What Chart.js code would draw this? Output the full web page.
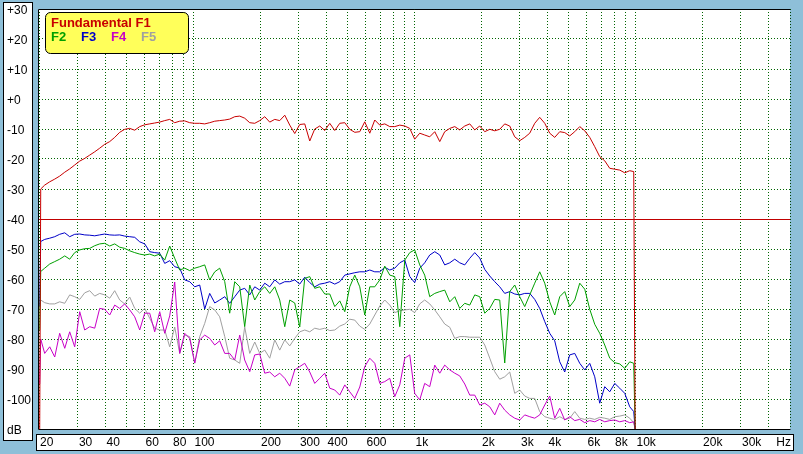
<!DOCTYPE html>
<html>
<head>
<meta charset="utf-8">
<title>Harmonic distortion</title>
<script src="https://cdn.jsdelivr.net/npm/chart.js@4.4.0/dist/chart.umd.min.js"></script>
<style>
    html, body { margin: 0; padding: 0; background: #8ebfd8; overflow: hidden; }
    canvas { display: block; }
</style>
</head>
<body>
<canvas id="chart" width="803" height="454"></canvas>
<script>
// frequency points (Hz) shared by every trace
const freqs = [
    20.15, 20.36, 21.22, 22.36, 23.56, 24.81, 26.15, 27.54, 29.01, 30.57, 32.20, 33.92,
    35.74, 37.64, 39.66, 41.78, 44.01, 46.37, 48.85, 51.46, 54.21, 57.11,
    60.16, 63.38, 66.77, 70.34, 74.10, 78.06, 82.24, 86.63, 91.27, 96.15,
    101.3, 106.7, 112.4, 118.4, 124.8, 131.4, 138.5, 145.8, 153.7, 161.9,
    170.5, 179.7, 189.3, 199.4, 210.1, 221.3, 233.2, 245.6, 258.8, 272.6,
    287.2, 302.5, 318.7, 335.8, 353.7, 372.7, 392.6, 413.6, 435.7, 459.0,
    483.6, 509.4, 536.7, 565.4, 595.6, 627.5, 661.0, 696.4, 733.6, 772.9,
    814.2, 857.8, 903.6, 951.9, 1002, 1056, 1112, 1172, 1235, 1301,
    1370, 1444, 1521, 1602, 1688, 1778, 1873, 1973, 2079, 2190,
    2307, 2430, 2560, 2697, 2841, 2993, 3153, 3322, 3499, 3686,
    3884, 4091, 4310, 4541, 4783, 5039, 5309, 5593, 5892, 6207,
    6539, 6888, 7257, 7645, 8054, 8484, 8938, 9416, 9817, 9960
];

// Fundamental F1
const f1 = [
    -110, -30, -28.7, -27.6, -26.7, -25.7, -24.4, -23.3, -22, -20.7, -19.8, -18.7,
    -17.6, -16.4, -15.1, -14.2, -12.8, -11.1, -10.1, -9.8, -10.4, -9.2,
    -8.6, -8.3, -8, -7.7, -7.2, -6.8, -7.9, -7.4, -7.3, -7.9,
    -8.1, -8.1, -8.3, -7.9, -7.4, -7.2, -7, -6.7, -5.9, -5.7,
    -6.4, -7.9, -8.1, -7.2, -5.9, -7.7, -6.8, -7.2, -5.4, -8.7,
    -11.5, -8.5, -8.3, -14, -10, -9, -10.5, -8.1, -10.5, -8.1,
    -7.9, -10.1, -11.1, -10.9, -7.6, -11.4, -7, -8.7, -8.3, -9.2,
    -9.2, -8.7, -9, -9.8, -13.4, -11.4, -12, -12.6, -10.9, -14.2,
    -10.9, -9.8, -9.2, -10.3, -9, -8.3, -10.3, -9, -10.9, -10.1,
    -10.6, -10.1, -8.3, -9, -12.6, -13.9, -12.8, -11.4, -8.1, -6.1,
    -8.1, -11.4, -12.8, -10.9, -11.2, -12.3, -10.9, -9.2, -10.6, -12.8,
    -15.9, -19.2, -20.6, -23.1, -23.4, -23.7, -24.6, -23.9, -24.2, -110
];

// F2
const f2 = [
    -77, -57.5, -56.4, -55, -54.2, -53.4, -52.3, -53.4, -51.2, -50.3, -49.9, -49.8,
    -48.9, -48.3, -48.1, -49, -48.3, -49.4, -49.8, -50.6, -51.2, -51.7,
    -52, -51.7, -52.3, -51.7, -53.7, -49, -53.1, -57, -56.4, -57.2,
    -56.4, -55.9, -55.3, -60.3, -57.6, -56.4, -60.9, -71.4, -60.9, -62.6,
    -75.9, -62, -67, -64.2, -62.6, -64.8, -62.6, -67, -75.9, -67,
    -68, -76, -59.8, -59.2, -63.1, -62.6, -65, -65, -69.2, -67.3,
    -70.9, -62.6, -58.7, -62.6, -72, -62.6, -62.6, -60.3, -55.7, -58.7,
    -59.2, -75.9, -53.7, -51.2, -50.3, -55.3, -58.7, -65.9, -64.8, -64.2,
    -63.7, -67.6, -65.9, -69.8, -68.1, -68.7, -65.3, -65.9, -71.4, -69.8,
    -66.8, -67, -88, -64.2, -62, -65.9, -69.2, -65.3, -61.4, -57.6,
    -61.4, -67.6, -72, -65.9, -64.2, -69.2, -67, -61.4, -63.4, -70.1,
    -75.1, -78.1, -82, -86.4, -87.9, -88.3, -89.8, -87.6, -88.1, -110
];

// F3
const f3 = [
    -69, -47.5, -46.8, -46.4, -45.9, -45.1, -44.6, -45.9, -45.1, -45, -45.3, -45.4,
    -45.6, -45.3, -45, -45.3, -45.4, -45.3, -45.7, -45.9, -46.1, -47.6,
    -48.3, -50.9, -51.2, -51.4, -54.8, -53.9, -55.9, -56.4, -60.3, -60.9,
    -62.6, -62, -70, -64.8, -68, -67, -65.9, -68.1, -65.9, -63.7,
    -63.1, -65.3, -62.6, -63.7, -61.4, -62.6, -60.3, -61.7, -60.9, -60.9,
    -60.3, -61.7, -59.4, -61.2, -62.6, -61.7, -61.4, -60.9, -61.7, -60.9,
    -58.7, -58.3, -57.9, -57.6, -57.6, -57, -57.6, -57.6, -56.1, -57,
    -56.4, -54.6, -53.7, -59.2, -61.2, -56.4, -54.6, -52, -50.9, -52,
    -55.3, -54.6, -53.4, -54.6, -55.3, -53.1, -51.2, -53, -56.8, -59,
    -60.9, -62.6, -64.8, -64.2, -65, -65.3, -64.8, -64.8, -66.8, -69.8,
    -74.2, -78.1, -80.6, -87.6, -91, -85.3, -84.8, -88.1, -90.3, -88.1,
    -92.6, -101.4, -95.9, -97.6, -94.8, -96.4, -98.1, -102.6, -104.2, -110
];

// F4
const f4 = [
    -95, -80, -84.8, -82.6, -86, -78.1, -83.1, -77.6, -82.6, -70.9, -77, -75.9,
    -76.4, -69.8, -70.1, -72, -68.7, -69.8, -68.3, -70.3, -72.6, -77,
    -71.4, -71.4, -77.6, -70.9, -78.1, -72.3, -61, -84.8, -78.1, -79.8,
    -88, -80.3, -78.7, -79.8, -82, -80.6, -84.8, -84.8, -87, -78.7,
    -87, -90.9, -85.3, -85, -91.4, -91, -92.6, -91.4, -93.1, -95.7,
    -90.3, -89.2, -88.1, -91, -94.8, -93.1, -91.4, -96.4, -97, -98.7,
    -95.3, -97.6, -99.8, -96, -89.2, -86.4, -88.1, -94.8, -94.2, -93.1,
    -99.2, -95.3, -86.4, -85.3, -98.1, -100.3, -94.8, -95.9, -88.7, -91.4,
    -88.7, -90.3, -91.4, -92.3, -95, -98.7, -98.7, -102, -101.4, -102.6,
    -105.3, -101.4, -103.7, -105.3, -106.4, -107, -105.3, -105.9, -106.4, -105.3,
    -102, -99, -106.4, -103.1, -107, -105.9, -107.2, -106.8, -107.9, -107.2,
    -107.6, -106.8, -107.6, -107.2, -107, -107.6, -107.2, -107.9, -107.6, -110
];

// F5
const f5 = [
    -70, -67, -67.9, -68.3, -68.3, -67.6, -68.1, -65.3, -65.9, -66.8, -64.6, -63.9,
    -65.7, -64.8, -65.3, -66.4, -63.9, -67, -68.3, -66, -69.8, -71.4,
    -69.8, -73.1, -76.4, -77, -77, -82.6, -76, -84.8, -78.7, -79.2,
    -88.1, -79.2, -74.8, -69.2, -70.3, -72.6, -79.2, -86.4, -87, -88.1,
    -76, -84.8, -81, -84.8, -83.7, -86.4, -80.3, -83.7, -80.3, -82.3,
    -79.8, -77.6, -77, -77.6, -76.4, -76.8, -76.4, -77.2, -77, -75.7,
    -75, -73.4, -73.7, -75.7, -76.8, -75, -72, -69, -67, -68.7,
    -71.2, -70.6, -70.3, -70.1, -71.2, -68.3, -67, -68.3, -70.3, -72.6,
    -75, -76.1, -79.8, -79.2, -79.2, -79.4, -79.4, -79.4, -82, -86.4,
    -90.9, -93.4, -92.6, -91, -98.1, -97, -99, -99.8, -99.8, -104.2,
    -105.9, -106.4, -106.8, -105.9, -106.8, -106.4, -104.2, -106.4, -106.8, -106.4,
    -106.8, -106.1, -106.4, -106.8, -105.9, -105.7, -105.3, -106.4, -107.9, -110
];

const seriesLabels = ["Fundamental F1", "F2", "F3", "F4", "F5"];
const seriesColors = ["#c80000", "#00a000", "#0000c8", "#c800c8", "#a0a0a0"];

const refLevel = -40;

// grid lines and labels of the frequency axis
const gridFreqs = [
    20, 30, 40, 50, 60, 70, 80, 90,
    100, 200, 300, 400, 500, 600, 700, 800, 900,
    1000, 2000, 3000, 4000, 5000, 6000, 7000, 8000, 9000,
    10000, 20000, 30000, 40000
];
const xTickValues = [20, 30, 40, 60, 80, 100, 200, 300, 400, 600, 1000, 2000, 3000, 4000, 6000, 8000, 10000, 20000, 30000, 40000];
const xTickLabels = ["20", "30", "40", "60", "80", "100", "200", "300", "400", "600", "1k", "2k", "3k", "4k", "6k", "8k", "10k", "20k", "30k", "  Hz"];

// level axis
const yTickValues = [-110, -100, -90, -80, -70, -60, -50, -40, -30, -20, -10, 0, 10, 20, 30];
const yTickLabels = ["dB", "-100", "-90", "-80", "-70", "-60", "-50", "-40", "-30", "-20", "-10", "+0", "+10", "+20", "+30"];

const fontFamily = "'Liberation Sans', Arial, sans-serif";
const gridColor = "#006400";

Chart.defaults.font.family = fontFamily;
Chart.defaults.font.size = 12;
Chart.defaults.color = "#000";

const roundRect = (ctx, x, y, w, h, r) => {
    ctx.beginPath();
    ctx.moveTo(x + r, y);
    ctx.lineTo(x + w - r, y);
    ctx.arcTo(x + w, y, x + w, y + r, r);
    ctx.lineTo(x + w, y + h - r);
    ctx.arcTo(x + w, y + h, x + w - r, y + h, r);
    ctx.lineTo(x + r, y + h);
    ctx.arcTo(x, y + h, x, y + h - r, r);
    ctx.lineTo(x, y + r);
    ctx.arcTo(x, y, x + r, y, r);
    ctx.closePath();
};

const panels = {
    id: "panels",
    beforeDraw(chart) {
        const { ctx, chartArea: area } = chart;
        ctx.save();
        ctx.fillStyle = "#8ebfd8";
        ctx.fillRect(0, 0, chart.width, chart.height);

        // level label box
        ctx.fillStyle = "#fff";
        ctx.strokeStyle = "#000";
        ctx.lineWidth = 1;
        ctx.fillRect(3, 2, 30, 439);
        ctx.strokeRect(3.5, 2.5, 29, 438);

        // frequency label box
        ctx.fillRect(36, 434, 758, 17);
        ctx.strokeRect(36.5, 434.5, 757, 16);

        // plot area
        ctx.fillRect(area.left - 1, area.top, area.right - area.left + 1, area.bottom - area.top + 1);
        ctx.restore();
    },
    beforeDatasetsDraw(chart) {
        const { ctx, chartArea: area, scales } = chart;
        const y = Math.round(scales.y.getPixelForValue(refLevel)) + 0.5;
        ctx.save();
        ctx.setLineDash([]);
        ctx.strokeStyle = "#c00000";
        ctx.lineWidth = 1;
        ctx.beginPath();
        ctx.moveTo(area.left - 1, y);
        ctx.lineTo(area.right, y);
        ctx.stroke();
        ctx.restore();
    },
    afterDraw(chart) {
        const { ctx, chartArea: area } = chart;
        ctx.save();
        ctx.lineWidth = 1;
        ctx.strokeStyle = "#000";
        ctx.beginPath();
        ctx.moveTo(area.left - 0.5, area.bottom + 0.5);
        ctx.lineTo(area.left - 0.5, area.top + 0.5);
        ctx.lineTo(area.right + 0.5, area.top + 0.5);
        ctx.moveTo(area.left - 0.5, area.bottom + 0.5);
        ctx.lineTo(area.right + 0.5, area.bottom + 0.5);
        ctx.stroke();
        ctx.setLineDash([1, 2]);
        ctx.strokeStyle = "#004000";
        ctx.beginPath();
        ctx.moveTo(area.right + 0.5, area.top);
        ctx.lineTo(area.right + 0.5, area.bottom);
        ctx.stroke();
        ctx.setLineDash([]);

        // legend box
        const datasets = chart.data.datasets;
        roundRect(ctx, 45.5, 12.5, 143, 41, 5);
        ctx.fillStyle = "#ffff5a";
        ctx.fill();
        ctx.strokeStyle = "#000";
        ctx.stroke();
        ctx.font = "bold 13px " + fontFamily;
        ctx.textBaseline = "middle";
        ctx.fillStyle = datasets[0].borderColor;
        ctx.fillText(datasets[0].label, 51, 23);
        datasets.slice(1).forEach((dataset, index) => {
            ctx.fillStyle = dataset.borderColor;
            ctx.fillText(dataset.label, 51 + index * 30, 37);
        });
        ctx.restore();
    },
};

const series = [f1, f2, f3, f4, f5];

new Chart(document.getElementById("chart"), {
    type: "line",
    data: {
        datasets: series.map((values, index) => ({
            label: seriesLabels[index],
            data: freqs.map((f, i) => ({ x: f, y: values[i] })),
            borderColor: seriesColors[index],
            backgroundColor: seriesColors[index],
            borderWidth: 1,
            pointRadius: 0,
            tension: 0,
            fill: false,
        })),
    },
    options: {
        responsive: false,
        devicePixelRatio: 1,
        animation: false,
        layout: {
            padding: { left: 7, top: 9, right: 13, bottom: 0 },
        },
        plugins: {
            legend: { display: false },
            tooltip: { enabled: false },
        },
        scales: {
            x: {
                type: "logarithmic",
                min: 20,
                max: 50000,
                afterBuildTicks: (scale) => {
                    scale.ticks = gridFreqs.map((value) => ({ value }));
                },
                afterFit: (scale) => {
                    scale.height = 25;
                },
                ticks: {
                    autoSkip: false,
                    maxRotation: 0,
                    minRotation: 0,
                    align: "start",
                    padding: 6,
                    labelOffset: 1,
                    callback: (value) => {
                        const index = xTickValues.indexOf(value);
                        return index >= 0 ? xTickLabels[index] : "";
                    },
                },
                grid: { color: gridColor, lineWidth: 1, drawTicks: false },
                border: { display: false, dash: [1, 2] },
            },
            y: {
                type: "linear",
                min: -110,
                max: 30,
                afterBuildTicks: (scale) => {
                    scale.ticks = yTickValues.map((value) => ({ value }));
                },
                afterFit: (scale) => {
                    scale.width = 32;
                },
                ticks: {
                    crossAlign: "far",
                    padding: 0,
                    labelOffset: 2,
                    callback: (value) => yTickLabels[yTickValues.indexOf(value)],
                },
                grid: { color: gridColor, lineWidth: 1, drawTicks: false },
                border: { display: false, dash: [1, 2] },
            },
        },
    },
    plugins: [panels],
});
</script>
</body>
</html>
